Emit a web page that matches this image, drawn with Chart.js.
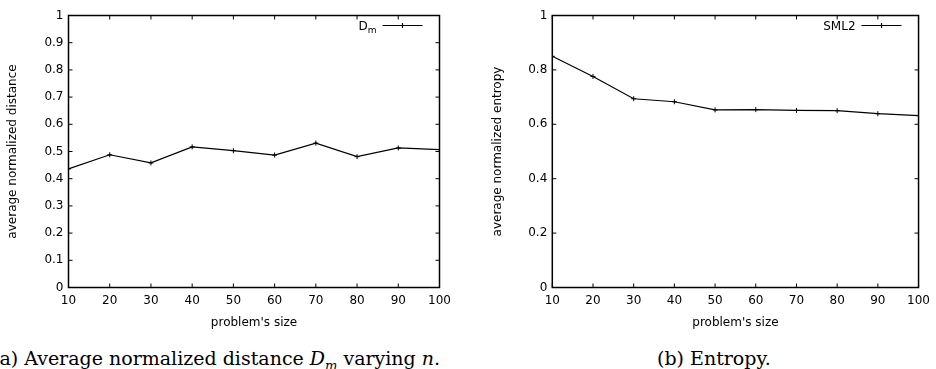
<!DOCTYPE html>
<html>
<head>
<meta charset="utf-8">
<script src="https://cdn.jsdelivr.net/npm/chart.js@4/dist/chart.umd.min.js"></script>
<style>
  html, body { margin: 0; padding: 0; background: #fff; }
  body { width: 936px; height: 369px; position: relative; overflow: hidden; }
  .box { position: absolute; top: 0; height: 330px; }
  .cap { position: absolute; font-family: "DejaVu Serif", serif; font-size: 19px; line-height: 20px; white-space: nowrap; color: #000; }
</style>
</head>
<body>
<div class="box" style="left:0;width:460px"><canvas id="chartA"></canvas></div>
<div class="box" style="left:470px;width:466px"><canvas id="chartB"></canvas></div>
<div class="cap" style="left:-8px;top:348px">(a) Average normalized distance <i>D<sub style="font-size:13px">m</sub></i> varying <i>n</i>.</div>
<div class="cap" style="left:657px;top:348px">(b) Entropy.</div>
<script>
// データ
const sizes    = [10, 20, 30, 40, 50, 60, 70, 80, 90, 100];
const distance = [0.436, 0.488, 0.458, 0.517, 0.503, 0.487, 0.531, 0.481, 0.513, 0.507];
const entropy  = [0.850, 0.776, 0.694, 0.683, 0.653, 0.654, 0.651, 0.650, 0.639, 0.632];

// 目盛り
const sizeTicks     = [10, 20, 30, 40, 50, 60, 70, 80, 90, 100];
const distanceTicks = [0, 0.1, 0.2, 0.3, 0.4, 0.5, 0.6, 0.7, 0.8, 0.9, 1];
const entropyTicks  = [0, 0.2, 0.4, 0.6, 0.8, 1];

const font = { family: "DejaVu Sans", size: 12 };

// 枠、内向きの目盛り、凡例を描く (gnuplot 風)
const frame = {
  id: "frame",
  afterDatasetsDraw(chart, args, opts) {
    const { ctx, chartArea: a, scales: { x, y } } = chart;
    ctx.save();
    ctx.strokeStyle = "#000";
    ctx.lineWidth = 1;
    ctx.beginPath();
    x.ticks.forEach(t => {
      const px = x.getPixelForValue(t.value);
      ctx.moveTo(px, a.bottom); ctx.lineTo(px, a.bottom - 4);
      ctx.moveTo(px, a.top);    ctx.lineTo(px, a.top + 4);
    });
    y.ticks.forEach(t => {
      const py = y.getPixelForValue(t.value);
      ctx.moveTo(a.left, py);  ctx.lineTo(a.left + 4, py);
      ctx.moveTo(a.right, py); ctx.lineTo(a.right - 4, py);
    });
    ctx.stroke();
    ctx.lineWidth = 1.5;
    ctx.strokeRect(a.left, a.top, a.right - a.left, a.bottom - a.top);

    // 凡例
    const ly = a.top + 10;
    const x2 = a.right - 17;
    const x1 = x2 - 40;
    ctx.lineWidth = 1.2;
    ctx.beginPath();
    ctx.moveTo(x1, ly); ctx.lineTo(x2, ly);
    const mx = (x1 + x2) / 2;
    ctx.moveTo(mx - 2.5, ly); ctx.lineTo(mx + 2.5, ly);
    ctx.moveTo(mx, ly - 2.5); ctx.lineTo(mx, ly + 2.5);
    ctx.stroke();
    ctx.fillStyle = "#000";
    ctx.textBaseline = "alphabetic";
    ctx.textAlign = "left";
    let tx = x1 - 6;
    if (opts.sub) {
      ctx.font = "9px 'DejaVu Sans'";
      const sw = ctx.measureText(opts.sub).width;
      tx -= sw;
      ctx.fillText(opts.sub, tx, ly + 7);
    }
    ctx.font = "12px 'DejaVu Sans'";
    const w = ctx.measureText(opts.text).width;
    ctx.fillText(opts.text, tx - w, ly + 4.5);
    ctx.restore();
  }
};

function makeConfig(values, yTicks, yTitle, yWidth, titlePad, padRight, label, sub) {
  return {
    type: "line",
    data: {
      datasets: [{
        label: label,
        data: sizes.map((s, i) => ({ x: s, y: values[i] })),
        borderColor: "#000",
        borderWidth: 1.2,
        pointStyle: "cross",
        pointRadius: 2.5,
        pointBorderWidth: 1,
        pointBorderColor: "#000",
        fill: false,
        tension: 0
      }]
    },
    options: {
      responsive: true,
      maintainAspectRatio: false,
      animation: false,
      layout: { padding: { top: 15.5, right: padRight, bottom: 0, left: 0 } },
      plugins: {
        legend: { display: false },
        tooltip: { enabled: false },
        frame: { text: label, sub: sub }
      },
      scales: {
        x: {
          type: "linear",
          min: 10,
          max: 100,
          grid: { display: false, drawTicks: false },
          border: { display: false },
          afterBuildTicks: s => { s.ticks = sizeTicks.map(v => ({ value: v })); },
          afterFit: s => { s.height = 42.5; },
          ticks: { font: font, color: "#000", padding: 6, maxRotation: 0, callback: v => String(v) },
          title: { display: true, text: "problem's size", font: font, color: "#000", padding: 0 }
        },
        y: {
          min: 0,
          max: 1,
          grid: { display: false, drawTicks: false },
          border: { display: false },
          afterBuildTicks: s => { s.ticks = yTicks.map(v => ({ value: v })); },
          afterFit: s => { s.width = yWidth; },
          ticks: { font: font, color: "#000", padding: 5, callback: v => String(v) },
          title: { display: true, text: yTitle, font: font, color: "#000", padding: { top: titlePad, bottom: 0 } }
        }
      }
    },
    plugins: [frame]
  };
}

new Chart(document.getElementById("chartA"),
  makeConfig(distance, distanceTicks, "average normalized distance", 68.5, 5.8, 20.5, "D", "m"));
new Chart(document.getElementById("chartB"),
  makeConfig(entropy, entropyTicks, "average normalized entropy", 82.3, 20.3, 12.7, "SML2", null));
</script>
</body>
</html>
